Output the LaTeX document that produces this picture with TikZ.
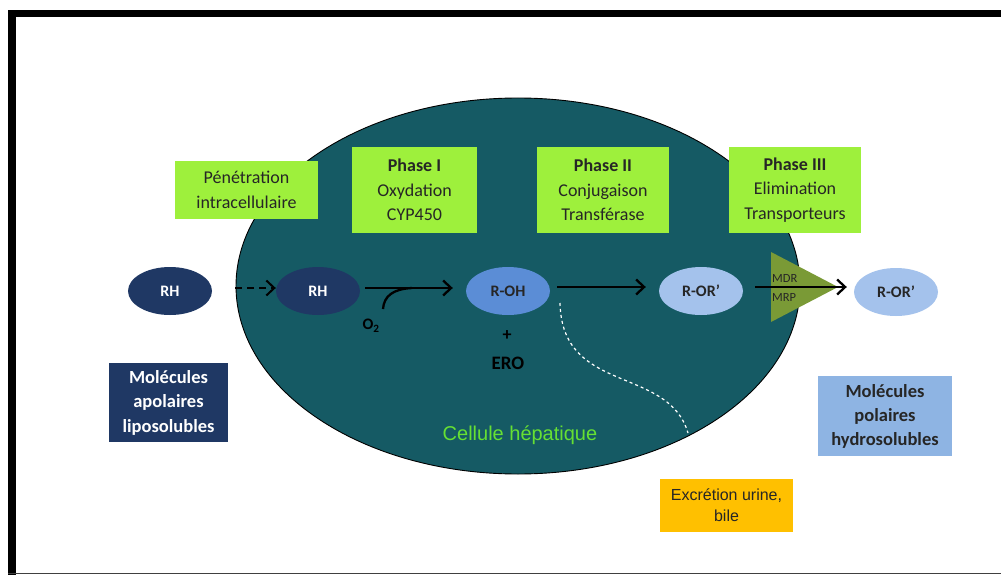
\documentclass[tikz,border=0pt]{standalone}
\usepackage{fontspec}
\setmainfont{Carlito}
\newfontfamily\arialf{Liberation Sans}
\usetikzlibrary{arrows.meta,shapes.geometric}
\definecolor{cellteal}{HTML}{155A64}
\definecolor{limegreen}{HTML}{9EF03C}
\definecolor{navyb}{HTML}{1F3864}
\definecolor{rohblue}{HTML}{5B8DD6}
\definecolor{rorblue}{HTML}{A4C2EC}
\definecolor{polblue}{HTML}{8EB4E3}
\definecolor{olivetri}{HTML}{7A9A36}
\definecolor{cellgreen}{HTML}{66E033}
\definecolor{orangebox}{HTML}{FFC000}
\definecolor{boxtext}{HTML}{262626}
\tikzset{
  greenbox/.style={fill=limegreen, draw=none, align=center, text=boxtext, inner sep=0pt,
    font=\fontsize{18}{24.5}\selectfont},
  mol/.style={ellipse, draw=none, minimum width=84pt, minimum height=48pt, inner sep=0pt,
    font=\fontsize{16}{18}\selectfont\bfseries},
  flowarrow/.style={line width=2.3pt, -{Straight Barb[length=8pt,width=15pt,line width=2.3pt]}},
}
\begin{document}
\begin{tikzpicture}[x=1pt,y=-1pt]
\useasboundingbox (0,0) rectangle (1001,575);
\fill[white] (0,0) rectangle (1001,575);
% frame
\fill[black] (8,10) rectangle (1001,17);
\fill[black] (8,10) rectangle (16,575);
\draw[line width=1.5pt, black!75] (8,573.5) -- (1001,573.5);

% cell
\node[ellipse, draw=black, line width=0.9pt, fill=cellteal, minimum width=564pt, minimum height=376pt, inner sep=0pt] (cell) at (518,286) {};

% green boxes
\node[greenbox, minimum width=143pt, minimum height=58pt] (pen) at (246.5,190) {Pénétration\\intracellulaire};
\node[greenbox, minimum width=125pt, minimum height=86pt] (ph1) at (414.5,190) {\textbf{Phase I}\\Oxydation\\CYP450};
\node[greenbox, minimum width=132pt, minimum height=86pt] (ph2) at (603,190) {\textbf{Phase II}\\Conjugaison\\Transférase};
\node[greenbox, minimum width=132pt, minimum height=86pt] (ph3) at (795,190) {\textbf{Phase III}\\Elimination\\Transporteurs};

% molecules
\node[mol, fill=navyb, text=white] (rh1) at (170,291) {RH};
\node[mol, fill=navyb, text=white] (rh2) at (318,291) {RH};
\node[mol, fill=rohblue, text=boxtext] (roh) at (508,291) {R-OH};
\node[mol, fill=rorblue, text=boxtext] (ror1) at (701,291) {R-OR'};
\node[mol, fill=rorblue, text=boxtext] (ror2) at (896,292) {R-OR'};

% transporter triangle
\fill[olivetri] (771,252) -- (838,287) -- (771,322) -- cycle;
\node[font=\fontsize{12.5}{13}\selectfont, text=boxtext, anchor=west, inner sep=0pt] (mdr) at (772,278) {MDR};
\node[font=\fontsize{12.5}{13}\selectfont, text=boxtext, anchor=west, inner sep=0pt] (mrp) at (772,297) {MRP};

% arrows
\draw[line width=2pt, dashed, dash pattern=on 7pt off 5pt, -{Straight Barb[length=8pt,width=15pt,line width=2pt]}]
  (rh1.east) ++(23,-3) coordinate (d1) (d1) -- (rh2.west |- d1);
\coordinate (a1s) at (365,288);
\coordinate (a1e) at ([xshift=-13pt]roh.west |- a1s);
\draw[flowarrow] (a1s) -- (a1e);
\coordinate (o2s) at (383,309);
\draw[line width=2.3pt] (o2s) .. controls (384,296) and (393,289) .. (412,288);
\node[font=\fontsize{16}{17}\selectfont\bfseries, text=black] (o2) at (371,326) {O$_{\mathbf 2}$};

\coordinate (a2s) at ([xshift=7pt]roh.east |- 0,287);
\coordinate (a2e) at ([xshift=-13pt]ror1.west |- 0,287);
\draw[flowarrow] (a2s) -- (a2e);

\coordinate (a3s) at ([xshift=12pt]ror1.east |- 0,287);
\coordinate (a3e) at ([xshift=-7pt]ror2.west |- 0,287);
\draw[flowarrow] (a3s) -- (a3e);

% products
\node[font=\fontsize{18}{20}\selectfont\bfseries, text=black] (plus) at (507,336) {+};
\node[font=\fontsize{19}{20}\selectfont\bfseries, text=black] (ero) at (508,363) {ERO};

% cell label
\node[font=\arialf\fontsize{20}{22}\selectfont, text=cellgreen] (celllab) at (520,435) {Cellule hépatique};

% excretion path
\coordinate (ex1) at (560,303);
\coordinate (ex2) at (688,433);
\draw[white, line width=1.2pt, dash pattern=on 3pt off 3pt] (ex1) .. controls (562,395) and (668,365) .. (ex2);

% side boxes
\node[fill=navyb, text=white, align=center, minimum width=119pt, minimum height=79pt, inner sep=0pt,
  font=\fontsize{18.5}{24.5}\selectfont\bfseries] (apol) at (168.5,402.5) {Molécules\\apolaires\\liposolubles};
\node[fill=polblue, text=boxtext, align=center, minimum width=134pt, minimum height=80pt, inner sep=0pt,
  font=\fontsize{18.5}{24}\selectfont\bfseries] (pol) at (885,416) {Molécules\\polaires\\hydrosolubles};
\node[fill=orangebox, text=boxtext, align=center, minimum width=133pt, minimum height=53pt, inner sep=0pt,
  font=\arialf\fontsize{16}{21}\selectfont] (excr) at (726.5,505.5) {Excrétion urine,\\bile};
\end{tikzpicture}
\end{document}
